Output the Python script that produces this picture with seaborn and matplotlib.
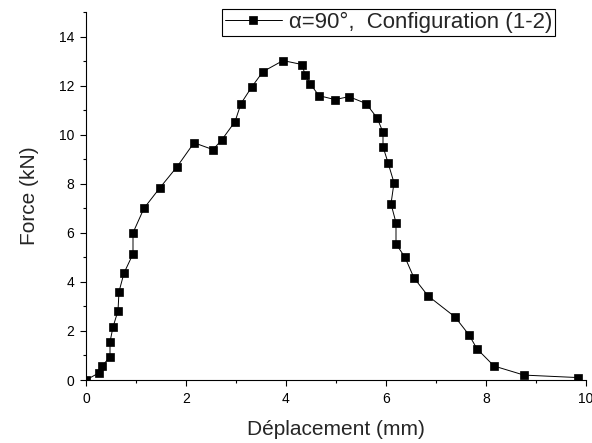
import matplotlib
matplotlib.use("Agg")
import matplotlib.pyplot as plt
import seaborn as sns
from matplotlib.ticker import MultipleLocator

# data
displacement = [0.0, 0.26, 0.32, 0.48, 0.48, 0.54, 0.64, 0.66, 0.76, 0.94,
                0.94, 1.16, 1.48, 1.82, 2.16, 2.54, 2.72, 2.98, 3.1, 3.32,
                3.54, 3.94, 4.32, 4.38, 4.48, 4.66, 4.98, 5.26, 5.6, 5.82,
                5.94, 5.94, 6.04, 6.16, 6.1, 6.2, 6.2, 6.38, 6.56, 6.84,
                7.38, 7.66, 7.82, 8.16, 8.76, 9.83]
force = [0.0, 0.29, 0.57, 0.94, 1.55, 2.16, 2.82, 3.6, 4.36, 5.14,
         6.0, 7.0, 7.84, 8.69, 9.67, 9.39, 9.8, 10.53, 11.27, 11.96,
         12.57, 13.02, 12.86, 12.45, 12.08, 11.59, 11.43, 11.55, 11.27, 10.69,
         10.1, 9.51, 8.86, 8.04, 7.18, 6.41, 5.55, 5.0, 4.16, 3.43,
         2.57, 1.84, 1.27, 0.57, 0.2, 0.1]
legend_label = "α=90°,  Configuration (1-2)"

sns.set_style("ticks")
plt.rcParams['font.family'] = ['Liberation Sans', 'DejaVu Sans']
plt.rcParams['axes.edgecolor'] = 'black'
plt.rcParams['xtick.color'] = 'black'
plt.rcParams['ytick.color'] = 'black'

fig = plt.figure(figsize=(5.92, 4.43), dpi=100)
ax = fig.add_axes([86 / 592, 63 / 443, 500 / 592, 368 / 443])

sns.lineplot(x=displacement, y=force, sort=False, estimator=None,
             color='black', linewidth=0.7, marker='s', markersize=6,
             markeredgecolor='black', markeredgewidth=0.5,
             label=legend_label, ax=ax)

ax.set_xlim(0, 10)
ax.set_ylim(0, 15)
ax.xaxis.set_major_locator(MultipleLocator(2))
ax.xaxis.set_minor_locator(MultipleLocator(1))
ax.yaxis.set_major_locator(MultipleLocator(2))
ax.yaxis.set_minor_locator(MultipleLocator(1))
ax.tick_params(which='major', direction='out', length=4.5, width=0.8,
               labelsize=10, pad=4)
ax.tick_params(which='minor', direction='out', length=2.2, width=0.8)
for s in ['left', 'bottom']:
    ax.spines[s].set_linewidth(0.8)
sns.despine(ax=ax)

ax.set_xlabel("Déplacement (mm)", fontsize=15, labelpad=10)
ax.set_ylabel("Force (kN)", fontsize=15, labelpad=14)

leg = ax.legend(loc='upper right', bbox_to_anchor=(0.938, 1.008),
                borderaxespad=0, fontsize=16, frameon=True, fancybox=False,
                borderpad=0.12, handlelength=2.6, handletextpad=0.3)
leg.get_frame().set_edgecolor('black')
leg.get_frame().set_linewidth(0.8)
leg.get_frame().set_alpha(1)

fig.savefig("out.png", dpi=100)
